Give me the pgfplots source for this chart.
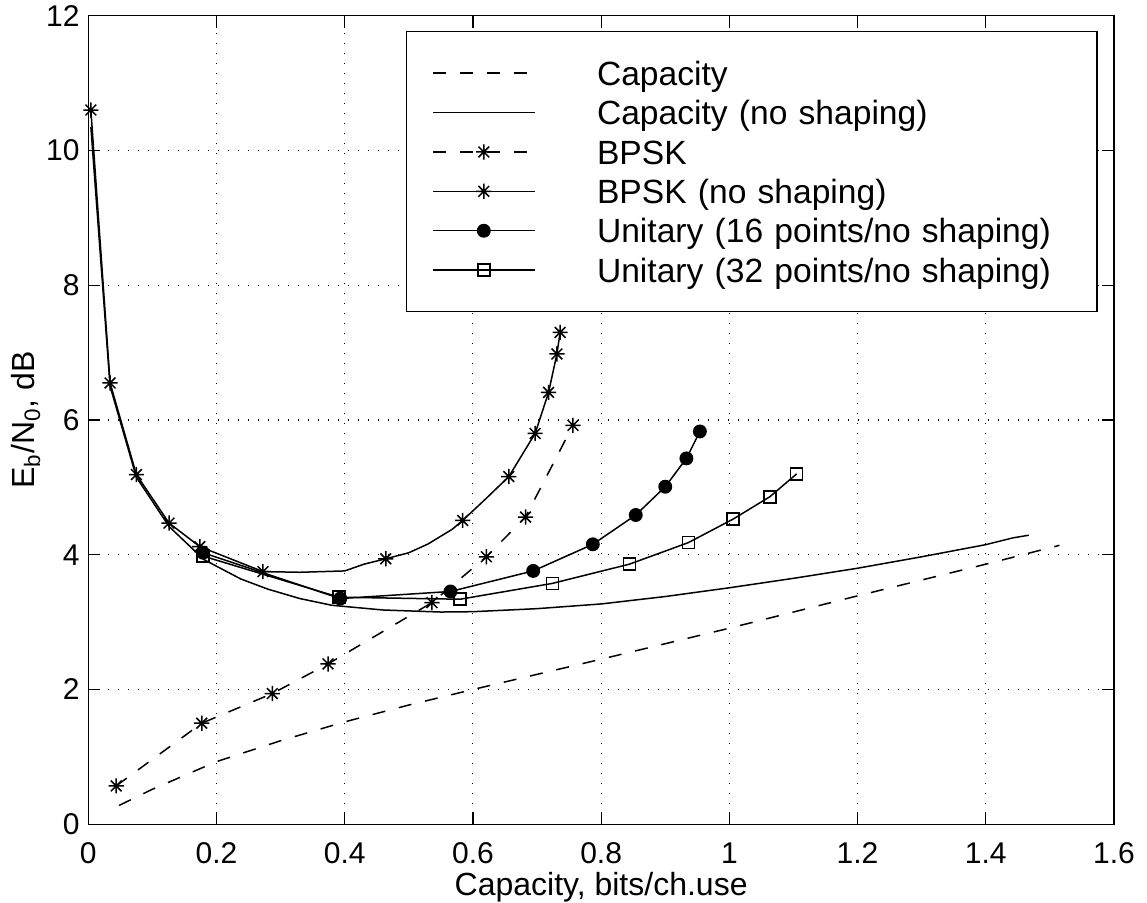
\documentclass[border=0pt]{standalone}
\usepackage{fontspec}
\setmainfont{Liberation Sans}
\usepackage{pgfplots}
\pgfplotsset{compat=1.18}
\newcommand\tickfont{\fontsize{15}{18}\selectfont}
\newcommand\lblfont{\fontsize{16}{19}\selectfont}
\newcommand\legfont{\fontsize{16.8}{20}\selectfont}
\pgfdeclareplotmark{mstar}{%
  \pgfpathmoveto{\pgfpoint{-\pgfplotmarksize}{0pt}}%
  \pgfpathlineto{\pgfpoint{\pgfplotmarksize}{0pt}}%
  \pgfpathmoveto{\pgfpoint{0pt}{-\pgfplotmarksize}}%
  \pgfpathlineto{\pgfpoint{0pt}{\pgfplotmarksize}}%
  \pgfpathmoveto{\pgfpoint{-0.7071\pgfplotmarksize}{-0.7071\pgfplotmarksize}}%
  \pgfpathlineto{\pgfpoint{0.7071\pgfplotmarksize}{0.7071\pgfplotmarksize}}%
  \pgfpathmoveto{\pgfpoint{-0.7071\pgfplotmarksize}{0.7071\pgfplotmarksize}}%
  \pgfpathlineto{\pgfpoint{0.7071\pgfplotmarksize}{-0.7071\pgfplotmarksize}}%
  \pgfusepathqstroke}
\begin{document}
\begin{tikzpicture}
\path[use as bounding box] (-44.15pt,-39.35pt) rectangle (529.35pt,412.15pt);
\begin{axis}[
  at={(0pt,0pt)}, anchor=south west,
  scale only axis, width=512.85pt, height=404.3pt,
  xmin=0, xmax=1.6, ymin=0, ymax=12,
  xtick={0,0.2,0.4,0.6,0.8,1,1.2,1.4,1.6},
  ytick={0,2,4,6,8,10,12},
  /pgf/number format/assume math mode=true,
  tick label style={font=\tickfont, inner sep=0pt},
  xticklabel style={anchor=base, yshift=-19.5pt},
  yticklabel style={anchor=east, xshift=-4.15pt},
  tick align=inside, major tick length=6pt,
  tick style={black, line width=0.6pt},
  axis line style={line width=0.7pt},
  grid=major,
  major grid style={black, line width=0.55pt, dash pattern=on 0.55pt off 4.45pt},
  xlabel={Capacity, bits/ch.use},
  ylabel={E\textsubscript{b}/N\textsubscript{0}, dB},
  every axis x label/.style={at={(axis description cs:0.5,0)}, anchor=base, yshift=-35.5pt, font=\lblfont},
  every axis y label/.style={at={(axis description cs:-0.052,0.5)}, anchor=base, rotate=90, font=\lblfont},
  legend style={
    at={(0.3094,0.981)}, anchor=north west,
    draw=black, line width=0.6pt, fill=white,
    inner xsep=13pt, inner ysep=12.6pt,
    row sep=3.4pt,
    /tikz/every odd column/.style={column sep=30.85pt},
    nodes={inner sep=0pt, text height=14.2pt, text depth=2.1pt, text width=237pt, align=left, font=\legfont},
    cells={anchor=west},
  },
  legend image code/.code={%
    \draw[#1, mark=none] (0pt,0pt) -- (50.8pt,0pt);
    \draw[#1, mark indices={1}] plot coordinates {(25.4pt,0pt)};
  },
]
% Capacity (dashed)
\addplot[black, line width=0.75pt, dash pattern=on 6.5pt off 7pt] coordinates {
(0.048,0.28) (0.1,0.52) (0.2,0.93) (0.3,1.24) (0.4,1.52) (0.5,1.77) (0.6,2.0)
(0.8,2.45) (1.0,2.91) (1.2,3.39) (1.4,3.86) (1.515,4.14)
};
\addlegendentry{Capacity}
% Capacity (no shaping)
\addplot[black, line width=0.75pt] coordinates {
(0.004,10.35) (0.034,6.5) (0.075,5.15) (0.126,4.42) (0.18,3.93) (0.238,3.64)
(0.28,3.49) (0.33,3.35) (0.38,3.25) (0.46,3.18) (0.55,3.15) (0.6,3.155)
(0.7,3.2) (0.8,3.27) (0.9,3.38) (1.0,3.51) (1.1,3.65) (1.2,3.8) (1.3,3.97)
(1.4,4.15) (1.442,4.25) (1.467,4.29)
};
\addlegendentry{Capacity (no shaping)}
% BPSK (dashed, stars)
\addplot[black, line width=0.75pt, dash pattern=on 6.5pt off 7pt, mark=mstar, mark size=3.8pt, mark options={solid}] coordinates {
(0.0435,0.57) (0.177,1.50) (0.287,1.94) (0.374,2.38) (0.536,3.29) (0.621,3.97) (0.682,4.56) (0.756,5.92)
};
\addlegendentry{BPSK}
% BPSK (no shaping)
\addplot[black, line width=0.75pt, mark=mstar, mark size=3.8pt, mark indices={1,2,3,4,5,6,10,14,16,17,18,19,20}] coordinates {
(0.004,10.6) (0.034,6.55) (0.075,5.19) (0.126,4.47) (0.174,4.12) (0.2725,3.75)
(0.33,3.74) (0.4,3.76) (0.43,3.86) (0.464,3.94) (0.5,4.03) (0.53,4.16) (0.568,4.38)
(0.584,4.51) (0.62,4.83) (0.656,5.16) (0.697,5.80) (0.718,6.41) (0.731,6.98) (0.736,7.30)
};
\addlegendentry{BPSK (no shaping)}
% Unitary 16
\addplot[black, line width=0.75pt, mark=*, mark size=3.1pt, mark options={fill=black}] coordinates {
(0.179,4.03) (0.393,3.35) (0.565,3.455) (0.694,3.76) (0.787,4.155) (0.854,4.59) (0.9,5.01) (0.933,5.43) (0.954,5.83)
};
\addlegendentry{Unitary (16 points/no shaping)}
% Unitary 32
\addplot[black, line width=0.75pt, mark=square, mark size=3pt] coordinates {
(0.179,3.98) (0.391,3.37) (0.58,3.34) (0.724,3.575) (0.844,3.86) (0.936,4.18) (1.006,4.53) (1.063,4.86) (1.105,5.20)
};
\addlegendentry{Unitary (32 points/no shaping)}
\end{axis}
\end{tikzpicture}
\end{document}
